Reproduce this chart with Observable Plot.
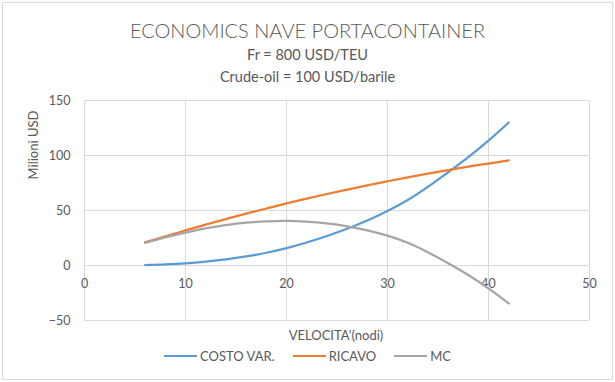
<!DOCTYPE html>
<html>
<head>
<meta charset="utf-8">
<script src="https://cdn.jsdelivr.net/npm/d3@7"></script>
<script src="https://cdn.jsdelivr.net/npm/@observablehq/plot@0.6"></script>
<style>
  html, body { margin: 0; padding: 0; background: #fff; }
  #chart { position: relative; width: 615px; height: 382px; overflow: hidden; font-family: Lato, "Open Sans", sans-serif; color: #595959; }
  #frame { position: absolute; left: 2px; top: 2px; right: 2px; bottom: 2px; border: 1px solid #d9d9d9; }
  .t { position: absolute; left: 0; width: 615px; text-align: center; white-space: nowrap; line-height: 1; }
  #title { top: 20px; font-size: 20px; font-weight: 300; }
  #sub1 { top: 48px; font-size: 14.5px; }
  #sub2 { top: 70px; font-size: 14.5px; }
  #plot { position: absolute; left: 0; top: 88px; }
  #ylab { position: absolute; left: 33px; top: 145px; transform: translate(-50%, -50%) rotate(-90deg); font-size: 13px; white-space: nowrap; }
  #xlab { position: absolute; left: 336px; top: 335px; transform: translate(-50%, -50%); font-size: 13px; white-space: nowrap; }
  #legend { position: absolute; left: 0; width: 615px; top: 348px; display: flex; justify-content: center; gap: 18px; font-size: 13px; line-height: 16px; }
  .item { display: flex; align-items: center; }
  .sw { display: inline-block; width: 33px; height: 2px; margin-right: 3px; }
</style>
</head>
<body>
<div id="chart">
  <div id="frame"></div>
  <div class="t" id="title">ECONOMICS NAVE PORTACONTAINER</div>
  <div class="t" id="sub1">Fr = 800 USD/TEU</div>
  <div class="t" id="sub2">Crude-oil = 100 USD/barile</div>
  <div id="plot"></div>
  <div id="ylab">Milioni USD</div>
  <div id="xlab">VELOCITA'(nodi)</div>
  <div id="legend"></div>
</div>
<script>
const velocita = [6, 8, 10, 12, 14, 16, 18, 20, 22, 24, 26, 28, 30, 32, 34, 36, 38, 40, 42];
const costoVar = [0.4, 1.0, 2.0, 3.5, 5.5, 8.2, 11.6, 15.8, 20.9, 26.8, 33.4, 40.9, 49.5, 59.5, 71.5, 84.7, 98.5, 113.5, 130];
const ricavo   = [21, 26.6, 31.9, 37.2, 42.2, 47.1, 51.8, 56.4, 60.8, 65, 69, 72.9, 76.6, 80.2, 83.6, 86.8, 89.9, 92.7, 95.5];
const mc       = [20.6, 25.6, 29.9, 33.7, 36.7, 38.9, 40.2, 40.6, 39.9, 38.2, 35.6, 32, 27.1, 20.7, 12.1, 2.1, -8.6, -20.8, -34.5];
const seriesNames = ["COSTO VAR.", "RICAVO", "MC"];
const seriesColors = ["#5b9bd5", "#ed7d31", "#a5a5a5"];
const xTicks = [0, 10, 20, 30, 40, 50];
const yTicks = [-50, 0, 50, 100, 150];

const valuesBySeries = [costoVar, ricavo, mc];
const rows = [];
seriesNames.forEach((s, i) => velocita.forEach((v, j) => rows.push({x: v, y: valuesBySeries[i][j], s})));

const chart = Plot.plot({
  width: 615,
  height: 255,
  marginLeft: 84,
  marginRight: 26,
  marginTop: 12,
  marginBottom: 23,
  x: {domain: [0, 50], axis: null},
  y: {domain: [-50, 150]},
  color: {domain: seriesNames, range: seriesColors},
  style: {fontFamily: "Lato, 'Open Sans', sans-serif", fontSize: "12px", color: "#595959", background: "transparent", overflow: "visible"},
  marks: [
    Plot.gridX(xTicks, {stroke: "#d9d9d9", strokeOpacity: 1, strokeWidth: 1}),
    Plot.gridY(yTicks, {stroke: "#d9d9d9", strokeOpacity: 1, strokeWidth: 1}),
    Plot.axisY(yTicks, {tickSize: 0, tickPadding: 14, label: null, fill: "#595959", fontSize: 12.5}),
    Plot.text(xTicks, {x: d => d, y: () => 0, dy: 18, fill: "#595959", fontSize: 12.5}),
    Plot.line(rows, {x: "x", y: "y", z: "s", stroke: "s", strokeWidth: 2.25, curve: "catmull-rom"})
  ]
});
document.getElementById("plot").appendChild(chart);

const legend = document.getElementById("legend");
seriesNames.forEach((s, i) => {
  const item = document.createElement("div");
  item.className = "item";
  const sw = document.createElement("span");
  sw.className = "sw";
  sw.style.background = seriesColors[i];
  item.appendChild(sw);
  item.appendChild(document.createTextNode(s));
  legend.appendChild(item);
});
</script>
</body>
</html>
